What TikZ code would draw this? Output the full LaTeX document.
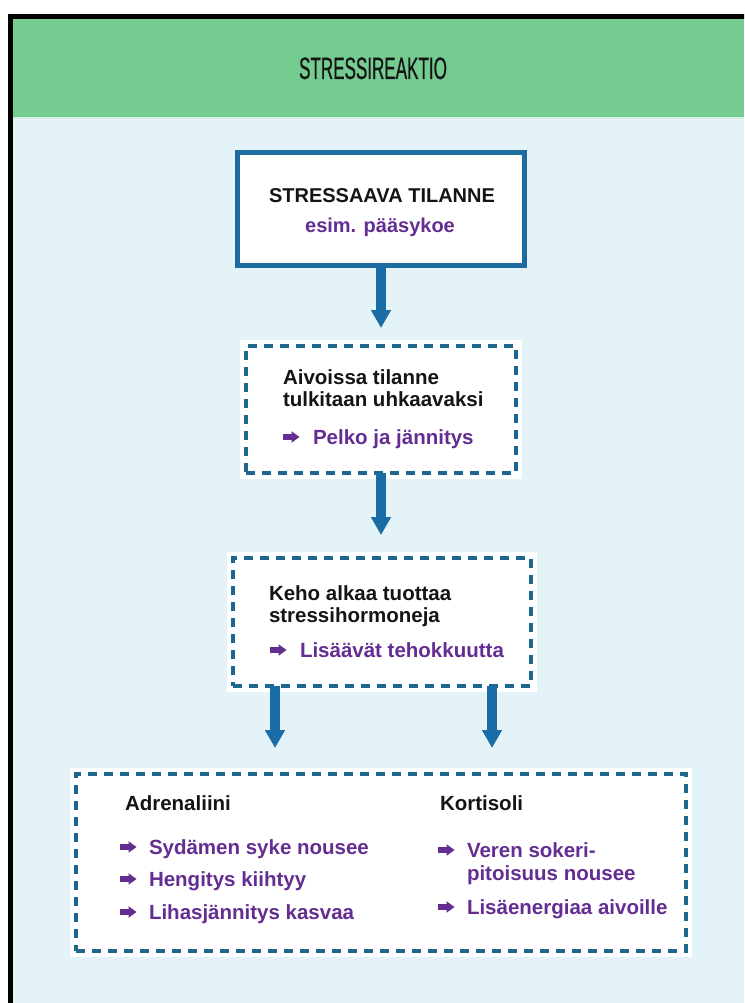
\documentclass[tikz,border=0pt]{standalone}
\usepackage{fontspec}
\setmainfont{Liberation Sans}
\newfontfamily\titlefont[FakeStretch=0.55,FakeBold=0.5]{Liberation Sans}
\usetikzlibrary{arrows.meta}
\definecolor{hdrgreen}{RGB}{116,204,145}
\definecolor{bodyblue}{RGB}{227,243,248}
\definecolor{seamline}{RGB}{214,238,232}
\definecolor{boxblue}{RGB}{29,108,160}
\definecolor{dashblue}{RGB}{30,102,140}
\definecolor{arrowblue}{RGB}{25,108,165}
\definecolor{purp}{RGB}{100,45,145}
\definecolor{ink}{RGB}{20,20,20}
\begin{document}
\begin{tikzpicture}[x=1pt,y=-1pt,
  solidbox/.style={draw=boxblue, line width=5pt, fill=white, inner sep=0pt, outer sep=0pt},
  dashbox/.style={draw=dashblue, line width=4pt, dash pattern=on 9pt off 7pt, fill=white,
    preaction={draw=white, solid, line width=12pt}, inner sep=0pt, outer sep=0pt},
  txt/.style={anchor=base west, inner sep=0pt, outer sep=0pt,
    font=\fontsize{20.5}{22}\selectfont\bfseries, text=ink},
  ptxt/.style={txt, text=purp},
  ctxt/.style={anchor=base, inner sep=0pt, outer sep=0pt,
    font=\fontsize{20}{22}\selectfont\bfseries, text=ink},
  bigarrow/.style={draw=arrowblue, line width=9.5pt, -{Triangle[width=19pt,length=18pt]}},
  arrowbullet/.pic={\fill[purp] (0,-2.8) -- (8.5,-2.8) -- (8.5,-5.8) -- (16.5,0) -- (8.5,5.8) -- (8.5,2.8) -- (0,2.8) -- cycle;}
]
\useasboundingbox (0,0) rectangle (744,1003);
\clip (0,0) rectangle (744,1003);
% background
\fill[white] (0,0) rectangle (744,1003);
\fill[hdrgreen] (10,17) rectangle (744,117);
\fill[seamline] (10,117) rectangle (744,119);
\fill[bodyblue] (10,119) rectangle (744,1003);
\draw[black, line width=5pt] (10.5,1010) -- (10.5,17) -- (760,17);
% title
\node[anchor=base, inner sep=0pt, font=\titlefont\fontsize{31}{31}\selectfont, text=ink] (title) at (373,79) {STRESSIREAKTIO};
% boxes
\node[solidbox, minimum width=287pt, minimum height=113pt] (box1) at (381,209) {};
\node[dashbox, minimum width=270pt, minimum height=127pt] (box2) at (381,409.5) {};
\node[dashbox, minimum width=298pt, minimum height=128pt] (box3) at (382,622) {};
\node[dashbox, minimum width=610pt, minimum height=177pt] (box4) at (381,862.5) {};
% box 1 text
\node[ctxt] (b1a) at (382,203) {STRESSAAVA TILANNE};
\node[ctxt, text=purp] (b1b) at (380,232) {esim. pääsykoe};
% box 2 text
\node[txt] (b2a) at (283,384) {Aivoissa tilanne};
\node[txt] (b2b) at (283,406) {tulkitaan uhkaavaksi};
\pic at (283,437) {arrowbullet};
\node[ptxt] (b2c) at (313,444) {Pelko ja jännitys};
% box 3 text
\node[txt] (b3a) at (269,600) {Keho alkaa tuottaa};
\node[txt] (b3b) at (269,622) {stressihormoneja};
\pic at (270,650) {arrowbullet};
\node[ptxt] (b3c) at (300,657) {Lisäävät tehokkuutta};
% box 4 left column
\node[txt] (adr) at (125,810) {Adrenaliini};
\pic at (120,847) {arrowbullet};
\node[ptxt] (adr1) at (149,854) {Sydämen syke nousee};
\pic at (120,879) {arrowbullet};
\node[ptxt] (adr2) at (149,886) {Hengitys kiihtyy};
\pic at (120,912) {arrowbullet};
\node[ptxt] (adr3) at (149,919) {Lihasjännitys kasvaa};
% box 4 right column
\node[txt] (kor) at (440,810) {Kortisoli};
\pic at (438,850) {arrowbullet};
\node[ptxt] (kor1) at (467,857) {Veren sokeri-};
\node[ptxt] (kor1b) at (467,880) {pitoisuus nousee};
\pic at (438,907) {arrowbullet};
\node[ptxt] (kor2) at (467,914) {Lisäenergiaa aivoille};
% connectors
\draw[bigarrow, shorten >=18pt] (box1.south) -- (box2.north);
\draw[bigarrow, shorten >=23pt] (box2.south) -- (box2.south |- box3.north);
\coordinate (la) at ([xshift=-107pt]box3.south);
\coordinate (ra) at ([xshift=110pt]box3.south);
\draw[bigarrow, shorten >=26pt] (la) -- (la |- box4.north);
\draw[bigarrow, shorten >=26pt] (ra) -- (ra |- box4.north);
\end{tikzpicture}
\end{document}
